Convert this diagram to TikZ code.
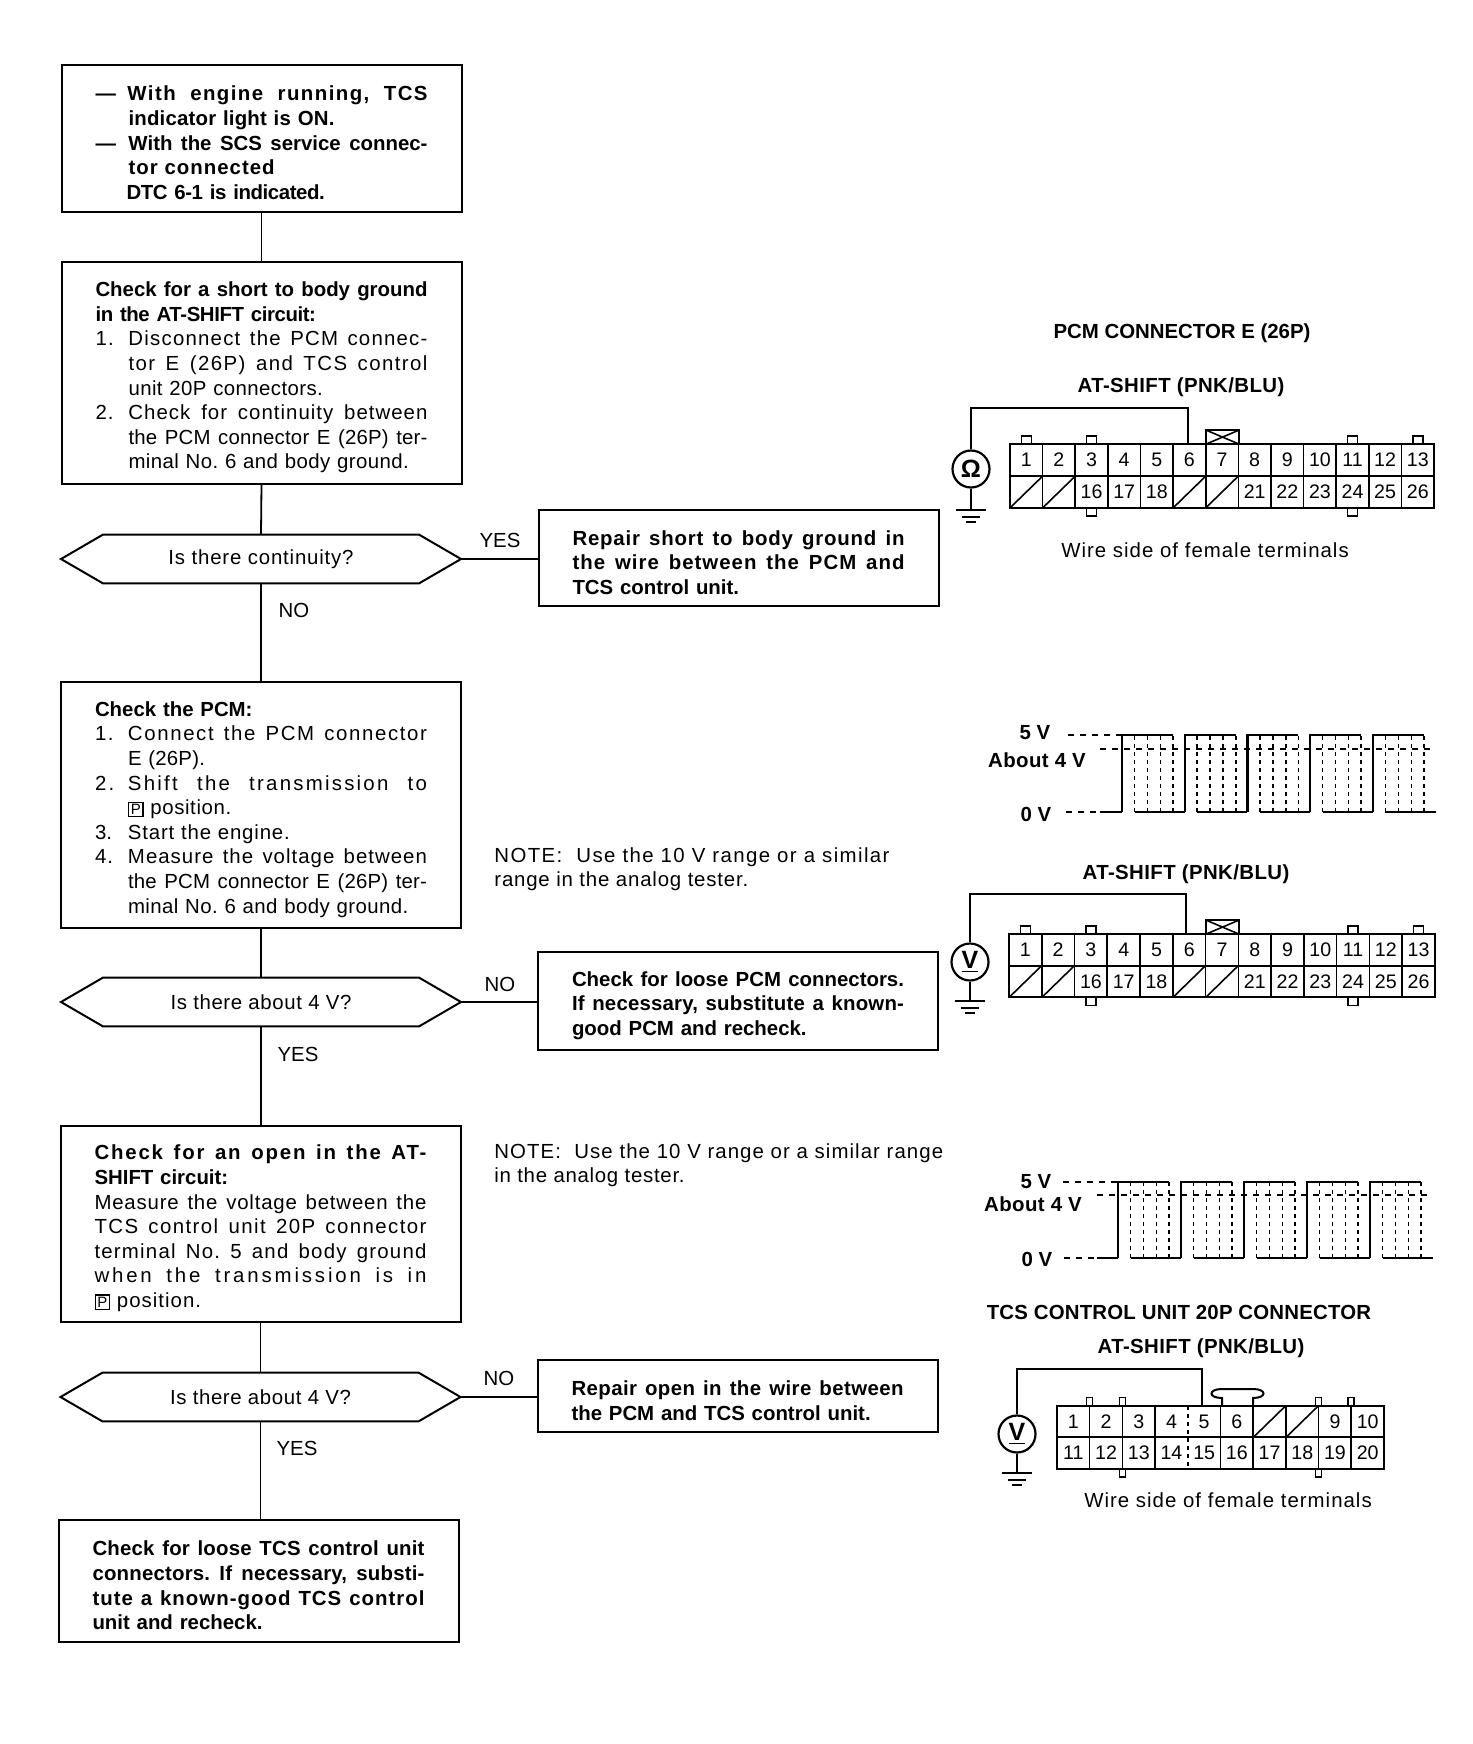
\documentclass[tikz,border=0pt]{standalone}
\usepackage{fontspec}
\setmainfont{Liberation Sans}
\newlength\flowW
\setlength\flowW{166pt}
\newcommand\ls[2]{{\addfontfeature{LetterSpace=#1}#2}}
\newcommand\jl[2][0]{{\addfontfeature{LetterSpace=#1}\spaceskip=.278em plus 3em minus .05em\xspaceskip=\spaceskip\leavevmode\hbox to \flowW{#2}}}
\newcommand\ind[1]{\hspace*{16.5pt}#1}
\newcommand\numl[3][0]{\jl[#1]{\rlap{#2}\hspace{16.5pt}#3}}
\newcommand\pp{{\setlength\fboxsep{0.7pt}\setlength\fboxrule{0.7pt}\fbox{\fontsize{7.5}{8}\selectfont P}}}
\newcommand\tabat[3]{\draw[tabline] ([xshift=-2.5pt]#1) -- ++(0,#2) -- ++(#3,0) -- ++(0,-#2);}
\newcommand\gnd[1]{\draw[wire] (#1)+(-15,0) -- +(15,0) +(-9,7) -- +(9,7) +(-5,12) -- +(5,12);}
\newcommand\hexout[1]{\draw[flow, line width=1pt] (#1.west) -- ([xshift=21pt]#1.north west) -- ([xshift=-21pt]#1.north east) -- (#1.east) -- ([xshift=-21pt]#1.south east) -- ([xshift=21pt]#1.south west) -- cycle;}
\newcommand\xcover[1]{%
  \draw[conn] ([xshift=-8pt]#1.north) -- ++(0,-14) -- ++(33,0) -- ++(0,14);
  \draw[tabline] ([xshift=-8pt]#1.north) -- ++(33,-14) ([xshift=-8pt]#1.north) ++(0,-14) -- ++(33,14);}
\newcommand\wavept[4]{% first rise, period, top, bottom
  \foreach \k in {0,...,4}{
    \pgfmathsetmacro\rr{#1+\k*#2}
    \draw[wave] (\rr,#4) -- (\rr,#3) -- (\rr+51,#3);
    \draw[wave] (\rr+12.5,#4) -- (\rr+#2,#4);
    \foreach \d in {12.5,25.5,38.5,51}{\draw[dotw] (\rr+\d,#4) -- (\rr+\d,#3);}
  }
}
\tikzset{
  flowbox/.style={draw, line width=1pt, inner sep=0pt, outer sep=0pt, text width=\flowW, align=left,
     minimum width=200pt, font=\frenchspacing\fontsize{10.2}{12.32}\selectfont,
     execute at begin node={\rule{0pt}{11.8pt}}},
  hexa/.style={inner sep=0pt, outer sep=0pt, minimum width=200pt, minimum height=24.4pt,
     font=\fontsize{10.2}{12}\selectfont},
  flow/.style={line width=0.9pt},
  lab/.style={inner sep=0pt, font=\frenchspacing\fontsize{10.2}{12}\selectfont},
  blab/.style={inner sep=0pt, font=\frenchspacing\fontsize{10.2}{12}\selectfont\bfseries},
  pin/.style={inner sep=0pt, outer sep=0pt, minimum width=16.32pt, minimum height=15.9pt, font=\fontsize{9.8}{11}\selectfont},
  conn/.style={line width=1pt},
  wire/.style={line width=1pt},
  tabline/.style={line width=0.8pt},
  meter/.style={draw, circle, line width=1.1pt, minimum size=18.5pt, inner sep=0pt, font=\fontsize{12.5}{14}\selectfont\bfseries},
  wave/.style={line width=1.2pt},
  dotw/.style={line width=0.8pt, dash pattern=on 2pt off 2pt},
  dashw/.style={line width=0.7pt, dash pattern=on 3pt off 3pt},
}
\begin{document}
\begin{tikzpicture}[x=0.5pt,y=-0.5pt]
\useasboundingbox (0,0) rectangle (1472,1744);
% flow boxes
\node[flowbox, minimum height=73.5pt] (b1) at (261.5,138.5) {\bfseries
\jl[7]{\rlap{—}\hspace{16pt}With engine running, TCS}\\
\ind{\ls{1}{indicator light is ON.}}\\
\jl{\rlap{—}\hspace{16.5pt}With the SCS service connec-}\\
\ind{\ls{5}{tor connected}}\\
\hspace*{15.5pt}\ls{-2}{DTC 6-1 is indicated.}};
\node[flowbox, minimum height=111pt] (b2) at (261.5,373) {
{\bfseries\jl{Check for a short to body ground}}\\
{\bfseries\ls{-2}{in the AT-SHIFT circuit:}}\\
\numl[6]{1.}{Disconnect the PCM connec-}\\
\jl[7]{\hspace{16.5pt}tor E (26P) and TCS control}\\
\ind{\ls{2}{unit 20P connectors.}}\\
\numl[5]{2.}{Check for continuity between}\\
\jl[1]{\hspace{16.5pt}the PCM connector E (26P) ter-}\\
\ind{\ls{2}{minal No. 6 and body ground.}}};
\node[hexa] (d1) at (261,559) {\ls{4}{Is there continuity?}};
\hexout{d1}
\node[flowbox, minimum height=123pt] (b3) at (261,805) {
{\bfseries Check the PCM:}\\
\numl[8]{1.}{Connect the PCM connector}\\
\ind{\ls{1}{E (26P).}}\\
\numl[11]{2.}{Shift the transmission to}\\
\ind{\pp{} \ls{3}{position.}}\\
\leavevmode\rlap{3.}\ind{\ls{4}{Start the engine.}}\\
\numl[5]{4.}{Measure the voltage between}\\
\jl[1]{\hspace{16.5pt}the PCM connector E (26P) ter-}\\
\ind{\ls{2}{minal No. 6 and body ground.}}};
\node[hexa] (d2) at (261,1002) {\ls{3}{Is there about 4 V?}};
\hexout{d2}
\node[flowbox, minimum height=98pt] (b4) at (260.5,1224) {
{\bfseries\jl[9]{Check for an open in the AT-}}\\
{\bfseries SHIFT circuit:}\\
\jl[4]{Measure the voltage between the}\\
\jl[7]{TCS control unit 20P connector}\\
\jl[6]{terminal No. 5 and body ground}\\
\jl[14]{when the transmission is in}\\
\pp{} \ls{5}{position.}};
\node[hexa] (d3) at (260.5,1397) {\ls{3}{Is there about 4 V?}};
\hexout{d3}
\node[flowbox, minimum height=61pt] (b5) at (258.5,1581) {\bfseries
\jl[1]{Check for loose TCS control unit}\\
\jl[1]{connectors. If necessary, substi-}\\
\jl[5]{tute a known-good TCS control}\\
unit and recheck.};
\node[flowbox, minimum height=48pt] (a1) at (738.5,558) {\bfseries
\jl[4]{Repair short to body ground in}\\
\jl[5]{the wire between the PCM and}\\
TCS control unit.};
\node[flowbox, minimum height=49pt] (a2) at (738,1001) {\bfseries
\jl{Check for loose PCM connectors.}\\
\jl[1]{If necessary, substitute a known-}\\
good PCM and recheck.};
\node[flowbox, minimum height=36pt] (a3) at (737.5,1396) {\bfseries
\jl[2]{Repair open in the wire between}\\
the PCM and TCS control unit.};
% connectors
\draw[flow] (b1.south) -- (b2.north);
\draw[flow] (b2.south) -- (d1.north);
\draw[flow] (d1.south) -- (b3.north);
\draw[flow] (b3.south) -- (d2.north);
\draw[flow] (d2.south) -- (d2.south |- b4.north);
\draw[flow] (b4.south) -- (d3.north);
\draw[flow] (d3.south) -- (d3.south |- b5.north);
\draw[flow] (d1.east) -- (a1.west |- d1.east);
\draw[flow] (d2.east) -- (a2.west |- d2.east);
\draw[flow] (d3.east) -- (a3.west |- d3.east);
% branch labels
\node[lab] (l1) at (500,540) {YES};
\node[lab] (l2) at (294,610) {NO};
\node[lab] (l3) at (500,984) {NO};
\node[lab] (l4) at (298,1054) {YES};
\node[lab] (l5) at (499,1378) {NO};
\node[lab] (l6) at (297,1448) {YES};
% notes
\node[lab, anchor=west] (n1) at (494,857) {\ls{6.8}{NOTE:\ \ Use the 10 V range or a similar}};
\node[lab, anchor=west] (n1b) at (494,881) {\ls{4}{range in the analog tester.}};
\node[lab, anchor=west] (n2) at (494,1153) {\ls{5.2}{NOTE:\ \ Use the 10 V range or a similar range}};
\node[lab, anchor=west] (n2b) at (494,1177) {\ls{3.5}{in the analog tester.}};
% ------- PCM connector (ohm)
\node[blab] (t1) at (1182,333) {PCM CONNECTOR E (26P)};
\node[blab] (t2) at (1181,387) {\ls{2}{AT-SHIFT (PNK/BLU)}};
\node[lab] (t3) at (1205,550) {\ls{5}{Wire side of female terminals}};
\foreach \n in {1,...,13}{\node[pin] (e-\n) at ({1010+(\n-0.5)*32.62},460) {\n};}
\foreach \n in {16,17,18,21,22,23,24,25,26}{\node[pin] (e-\n) at ({1010+(\n-13.5)*32.62},492) {\n};}
\foreach \n in {14,15,19,20}{\node[pin] (e-\n) at ({1010+(\n-13.5)*32.62},492) {};
  \draw[tabline] (e-\n.south west) -- (e-\n.north east);}
\draw[conn] (e-1.north west) rectangle (e-26.south east);
\draw[conn] (e-1.south west) -- (e-13.south east);
\foreach \n [evaluate=\n as \m using int(\n+13)] in {1,...,12}{\draw[tabline] (e-\n.north east) -- (e-\m.south east);}
\foreach \n in {1,3,11,13}{\tabat{e-\n.north}{-8}{10}}
\foreach \n in {16,24}{\tabat{e-\n.south}{8}{10}}
\xcover{e-7}
\node[meter] (m1) at (971,469) {Ω};
\coordinate (g1) at (971,510);
\coordinate (w1) at (1188,408);
\draw[wire] (m1.north) |- (w1) -- (w1 |- e-6.north);
\draw[wire] (m1.south) -- (g1);
\gnd{g1}
% ------- waveform 1
\node[blab] (v1) at (1035,733) {5 V};
\node[blab] (v2) at (1037,760) {\ls{2}{About 4 V}};
\node[blab] (v3) at (1036,814) {0 V};
\draw[dashw] (1068,735) -- (1122,735);
\draw[dashw] (1066,812) -- (1100,812);
\draw[wave] (1100,812) -- (1122,812);
\draw[dashw] (1100,749) -- (1433,749);
\wavept{1122}{62.7}{735}{812}
% ------- second AT-SHIFT connector (V)
\node[blab] (t4) at (1186,874) {\ls{2}{AT-SHIFT (PNK/BLU)}};
\foreach \n in {1,...,13}{\node[pin] (f-\n) at ({1009+(\n-0.5)*32.77},950) {\n};}
\foreach \n in {16,17,18,21,22,23,24,25,26}{\node[pin] (f-\n) at ({1009+(\n-13.5)*32.77},981.5) {\n};}
\foreach \n in {14,15,19,20}{\node[pin] (f-\n) at ({1009+(\n-13.5)*32.77},981.5) {};
  \draw[tabline] (f-\n.south west) -- (f-\n.north east);}
\draw[conn] (f-1.north west) rectangle (f-26.south east);
\draw[conn] (f-1.south west) -- (f-13.south east);
\foreach \n [evaluate=\n as \m using int(\n+13)] in {1,...,12}{\draw[tabline] (f-\n.north east) -- (f-\m.south east);}
\foreach \n in {1,3,11,13}{\tabat{f-\n.north}{-8}{10}}
\foreach \n in {16,24}{\tabat{f-\n.south}{8}{10}}
\xcover{f-7}
\node[meter] (m2) at (970,962) {\underline{V}};
\coordinate (g2) at (970,1001);
\coordinate (w2) at (1186,894);
\draw[wire] (m2.north) |- (w2) -- (w2 |- f-6.north);
\draw[wire] (m2.south) -- (g2);
\gnd{g2}
% ------- waveform 2
\node[blab] (v4) at (1036,1182) {5 V};
\node[blab] (v5) at (1033,1204) {\ls{2}{About 4 V}};
\node[blab] (v6) at (1037,1259) {0 V};
\draw[dashw] (1063,1182) -- (1118,1182);
\draw[dashw] (1064,1258) -- (1097,1258);
\draw[wave] (1097,1258) -- (1118,1258);
\draw[dashw] (1097,1195) -- (1429,1195);
\wavept{1118}{63}{1182}{1258}
% ------- TCS 20P connector
\node[blab] (t5) at (1179,1312) {\ls{1}{TCS CONTROL UNIT 20P CONNECTOR}};
\node[blab] (t6) at (1201,1348) {\ls{2}{AT-SHIFT (PNK/BLU)}};
\node[lab] (t7) at (1228,1500) {\ls{5}{Wire side of female terminals}};
\foreach \n in {1,2,3,4,5,6,9,10}{\node[pin] (h-\n) at ({1057+(\n-0.5)*32.7},1421.5) {\n};}
\foreach \n in {7,8}{\node[pin] (h-\n) at ({1057+(\n-0.5)*32.7},1421.5) {};
  \draw[tabline] (h-\n.south west) -- (h-\n.north east);}
\foreach \n in {11,...,20}{\node[pin] (h-\n) at ({1057+(\n-10.5)*32.7},1453) {\n};}
\draw[conn] (h-1.north west) rectangle (h-20.south east);
\draw[conn] (h-1.south west) -- (h-10.south east);
\foreach \n [evaluate=\n as \m using int(\n+10)] in {1,2,3,5,6,7,8,9}{\draw[tabline] (h-\n.north east) -- (h-\m.south east);}
\draw[dotw] (h-4.north east) -- (h-14.south east);
\foreach \n in {1,2,8,9}{\draw[tabline] ([xshift=-1.5pt]h-\n.north east) -- ++(0,-8) -- ++(6,0) -- ++(0,8);}
\foreach \n in {12,18}{\draw[tabline] ([xshift=-1.5pt]h-\n.south east) -- ++(0,8) -- ++(6,0) -- ++(0,-8);}
\draw[conn] (1222,1406) -- (1222,1398) .. controls (1208,1398) and (1208,1389) .. (1222,1389) -- (1253,1389) .. controls (1267,1389) and (1267,1398) .. (1253,1398) -- (1253,1406);
\node[meter] (m3) at (1017,1434) {\underline{V}};
\coordinate (g3) at (1017,1473);
\coordinate (w3) at (1202,1369);
\draw[wire] (m3.north) |- (w3) -- (w3 |- h-5.north);
\draw[wire] (m3.south) -- (g3);
\gnd{g3}
\end{tikzpicture}
\end{document}
